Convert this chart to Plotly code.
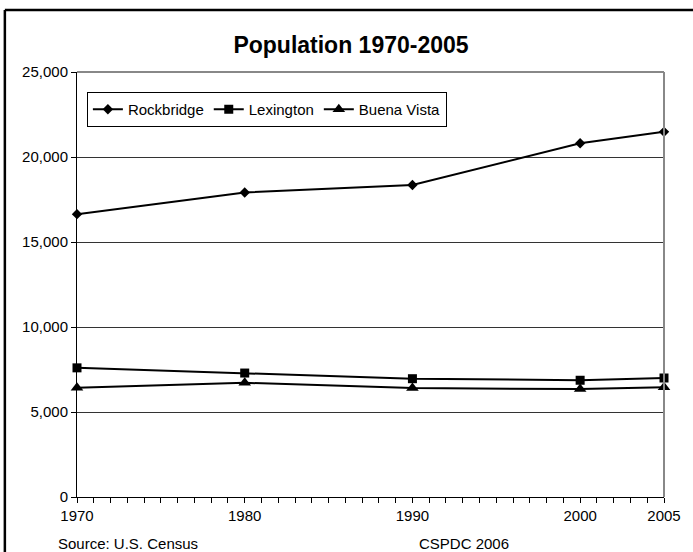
import plotly.graph_objects as go

years = [1970, 1980, 1990, 2000, 2005]
rockbridge = [16637, 17911, 18350, 20808, 21480]
lexington = [7597, 7292, 6959, 6867, 7000]
buena_vista = [6425, 6717, 6406, 6349, 6460]

series_names = ["Rockbridge", "Lexington", "Buena Vista"]
x_tick_vals = [1970, 1980, 1990, 2000, 2005]
x_tick_text = ["1970", "1980", "1990", "2000", "2005"]
y_tick_vals = [0, 5000, 10000, 15000, 20000, 25000]

FONT = "Arial, Liberation Sans, sans-serif"

fig = go.Figure()
for name, vals, sym, size in [
    (series_names[0], rockbridge, "diamond", 8),
    (series_names[1], lexington, "square", 9),
    (series_names[2], buena_vista, "triangle-up", 11),
]:
    fig.add_trace(go.Scatter(
        x=years, y=vals, name=name, mode="lines+markers",
        line=dict(color="black", width=2),
        marker=dict(symbol=sym, size=size, color="black"),
        cliponaxis=False,
    ))

W, H = 693, 552
L, R, T, B = 77, 22, 72, 55
PW, PH = W - L - R, H - T - B

def px(x):
    return (x - L) / PW

def py(y):
    return (H - B - y) / PH

fig.update_layout(
    width=W, height=H,
    margin=dict(l=L, r=R, t=T, b=B),
    paper_bgcolor="white", plot_bgcolor="white",
    font=dict(family=FONT, size=15, color="black"),
    title=dict(text="Population 1970-2005", x=351 / W, xanchor="center",
               y=1 - 45 / H, yanchor="middle",
               font=dict(family=FONT, size=23, color="black", weight="bold")),
    showlegend=True,
    legend=dict(orientation="h", x=px(87), xanchor="left", y=py(92), yanchor="top",
                bordercolor="black", borderwidth=1, bgcolor="white",
                font=dict(family=FONT, size=15, color="black"),
                itemwidth=30),
    xaxis=dict(range=[1970, 2005], tickmode="array", tickvals=x_tick_vals, ticktext=x_tick_text,
               ticks="outside", ticklen=5, tickcolor="black", tickwidth=1,
               showline=True, linecolor="black", linewidth=1, showgrid=False, zeroline=False,
               minor=dict(tickmode="linear", tick0=1970, dtick=1, ticks="outside", ticklen=5,
                          tickcolor="black", tickwidth=1, showgrid=False),
               tickfont=dict(family=FONT, size=15, color="black")),
    yaxis=dict(range=[0, 25000], tickmode="array", tickvals=y_tick_vals, tickformat=",",
               ticks="outside", ticklen=5, tickcolor="black", tickwidth=1,
               showline=True, linecolor="black", linewidth=1,
               showgrid=True, gridcolor="#333333", gridwidth=1, zeroline=False,
               tickfont=dict(family=FONT, size=15, color="black")),
    shapes=[
        dict(type="line", xref="paper", yref="paper", x0=0, x1=1, y0=1, y1=1,
             line=dict(color="#888888", width=2), layer="above"),
        dict(type="line", xref="paper", yref="paper", x0=1, x1=1, y0=0, y1=1,
             line=dict(color="#888888", width=2), layer="above"),
        dict(type="line", xref="paper", yref="paper", x0=px(4), x1=px(740), y0=py(10), y1=py(10),
             line=dict(color="black", width=2.5), layer="above"),
        dict(type="line", xref="paper", yref="paper", x0=px(4), x1=px(4), y0=py(600), y1=py(10),
             line=dict(color="black", width=2.5), layer="above"),
    ],
    annotations=[
        dict(text="Source: U.S. Census", xref="paper", yref="paper", x=px(56), y=py(543),
             xanchor="left", yanchor="middle", showarrow=False,
             font=dict(family=FONT, size=15, color="black")),
        dict(text="CSPDC 2006", xref="paper", yref="paper", x=px(469), y=py(543),
             xanchor="center", yanchor="middle", showarrow=False,
             font=dict(family=FONT, size=15, color="black")),
    ],
)

fig.write_html(
    "out.html",
    config={"displayModeBar": False},
    post_script="document.body.style.margin='0';document.body.style.padding='0';"
                "document.body.style.overflow='hidden';document.documentElement.style.overflow='hidden';",
)
